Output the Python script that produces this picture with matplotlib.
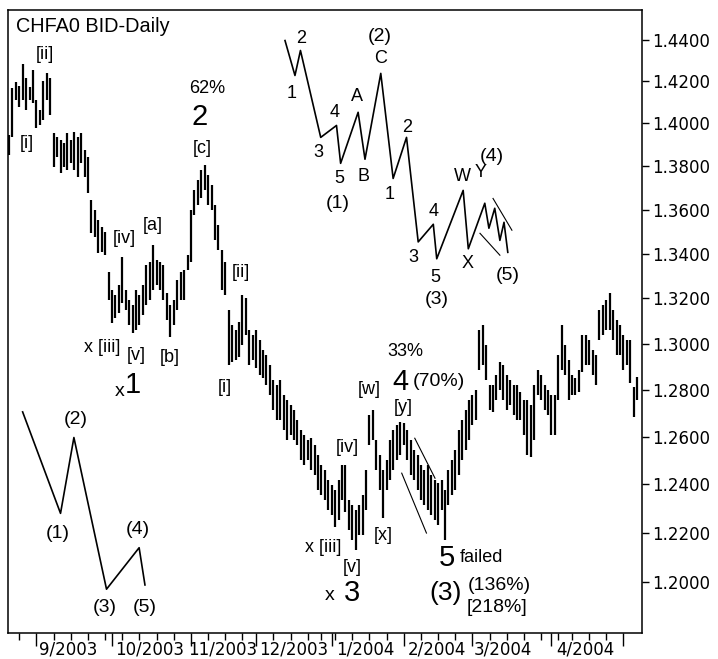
import numpy as np
import pandas as pd
import matplotlib
matplotlib.use("Agg")
import matplotlib.pyplot as plt
from matplotlib.ticker import FixedLocator, FormatStrFormatter, NullLocator
import matplotlib.transforms as mtransforms

plt.rcParams['font.family'] = ['DejaVu Sans']
LAB = ['Liberation Sans', 'DejaVu Sans']

#%% Daily bars, CHF futures
hi = [1.3943, 1.4165, 1.4194, 1.4179, 1.4284, 1.4217, 1.4170, 1.4251, 1.4108, 1.4061,
      1.4203, 1.4237, 1.4217, 1.3953, 1.3934, 1.3920, 1.3906, 1.3953, 1.3920, 1.3957,
      1.3934, 1.3953, 1.3873, 1.3841, 1.3642, 1.3597, 1.3551, 1.3519, 1.3497, 1.3316,
      1.3236, 1.3214, 1.3258, 1.3384, 1.3236, 1.3192, 1.3170, 1.3236, 1.3214, 1.3258,
      1.3348, 1.3361, 1.3438, 1.3370, 1.3361, 1.3348, 1.3223, 1.3170, 1.3192, 1.3281,
      1.3316, 1.3325, 1.3393, 1.3597, 1.3688, 1.3734, 1.3780, 1.3804, 1.3757, 1.3711,
      1.3619, 1.3528, 1.3415, 1.3361, 1.3148, 1.3082, 1.3060, 1.3095, 1.3214, 1.3201,
      1.3060, 1.3038, 1.3060, 1.3016, 1.2972, 1.2950, 1.2907, 1.2842, 1.2821, 1.2842,
      1.2778, 1.2756, 1.2735, 1.2714, 1.2671, 1.2628, 1.2607, 1.2586, 1.2594, 1.2565,
      1.2523, 1.2481, 1.2460, 1.2418, 1.2397, 1.2377, 1.2418, 1.2481, 1.2481, 1.2335,
      1.2314, 1.2294, 1.2314, 1.2356, 1.2460, 1.2692, 1.2714, 1.2586, 1.2523, 1.2460,
      1.2502, 1.2586, 1.2628, 1.2650, 1.2662, 1.2658, 1.2628, 1.2586, 1.2544, 1.2523,
      1.2481, 1.2460, 1.2481, 1.2439, 1.2418, 1.2406, 1.2418, 1.2377, 1.2460, 1.2502,
      1.2544, 1.2628, 1.2671, 1.2714, 1.2756, 1.2778, 1.2799, 1.3060, 1.3082, 1.2994,
      1.2821, 1.2821, 1.2864, 1.2920, 1.2907, 1.2864, 1.2842, 1.2821, 1.2821, 1.2791,
      1.2756, 1.2756, 1.2735, 1.2821, 1.2885, 1.2864, 1.2821, 1.2799, 1.2778, 1.2778,
      1.2950, 1.3082, 1.2994, 1.2929, 1.2864, 1.2851, 1.2885, 1.3038, 1.3038, 1.3016,
      1.2972, 1.2950, 1.3148, 1.3170, 1.3192, 1.3223, 1.3148, 1.3104, 1.3082, 1.3038,
      1.3016, 1.3016, 1.2812, 1.2855]
lo = [1.3850, 1.3934, 1.4108, 1.4075, 1.4108, 1.4061, 1.4108, 1.4094, 1.3976, 1.3990,
      1.4014, 1.4108, 1.4038, 1.3795, 1.3841, 1.3767, 1.3795, 1.3780, 1.3813, 1.3780,
      1.3748, 1.3813, 1.3748, 1.3674, 1.3492, 1.3474, 1.3402, 1.3406, 1.3393, 1.3192,
      1.3090, 1.3112, 1.3134, 1.3178, 1.3148, 1.3082, 1.3046, 1.3060, 1.3082, 1.3125,
      1.3170, 1.3192, 1.3236, 1.3258, 1.3236, 1.3192, 1.3104, 1.3029, 1.3082, 1.3148,
      1.3192, 1.3192, 1.3325, 1.3361, 1.3574, 1.3619, 1.3651, 1.3688, 1.3619, 1.3597,
      1.3460, 1.3415, 1.3236, 1.3214, 1.2907, 1.2920, 1.2929, 1.2942, 1.2994, 1.3038,
      1.2907, 1.2929, 1.2894, 1.2864, 1.2851, 1.2821, 1.2778, 1.2714, 1.2671, 1.2671,
      1.2628, 1.2586, 1.2607, 1.2586, 1.2565, 1.2502, 1.2481, 1.2502, 1.2460, 1.2439,
      1.2377, 1.2356, 1.2335, 1.2294, 1.2273, 1.2224, 1.2253, 1.2335, 1.2286, 1.2212,
      1.2171, 1.2130, 1.2191, 1.2191, 1.2294, 1.2565, 1.2586, 1.2460, 1.2377, 1.2261,
      1.2377, 1.2418, 1.2460, 1.2502, 1.2523, 1.2565, 1.2502, 1.2439, 1.2418, 1.2377,
      1.2335, 1.2314, 1.2294, 1.2273, 1.2253, 1.2232, 1.2294, 1.2171, 1.2314, 1.2356,
      1.2377, 1.2439, 1.2502, 1.2544, 1.2586, 1.2650, 1.2671, 1.2885, 1.2907, 1.2842,
      1.2714, 1.2705, 1.2756, 1.2799, 1.2756, 1.2714, 1.2735, 1.2692, 1.2671, 1.2671,
      1.2607, 1.2523, 1.2514, 1.2586, 1.2778, 1.2756, 1.2714, 1.2692, 1.2607, 1.2607,
      1.2756, 1.2885, 1.2864, 1.2756, 1.2778, 1.2778, 1.2791, 1.2877, 1.2907, 1.2907,
      1.2864, 1.2821, 1.3016, 1.3038, 1.3060, 1.3060, 1.3016, 1.2950, 1.2950, 1.2885,
      1.2907, 1.2829, 1.2684, 1.2756]

dates = pd.date_range('2003-08-20', periods=len(hi),
                      freq=pd.offsets.CustomBusinessDay(holidays=['2003-11-27', '2003-12-25',
                                                                   '2004-01-01', '2004-04-09']))
xx = np.arange(len(hi))

yticks = [1.20, 1.22, 1.24, 1.26, 1.28, 1.30, 1.32, 1.34, 1.36, 1.38, 1.40, 1.42, 1.44]

# month labels: text and left edge (bar index where the label starts)
month_lbl = ['9/2003', '10/2003', '11/2003', '12/2003', '1/2004', '2/2004', '3/2004', '4/2004']
month_lbl_x = [8.7, 30.8, 52.3, 72.8, 95.2, 116.2, 135.4, 159.3]

# schematic wave sketches (bar index, price)
sk_top_x = [80.4, 83.3, 84.9, 90.8, 95.4, 96.6, 101.7, 103.7, 108.3, 111.9, 115.8, 119.2,
            123.6, 124.6, 132.3, 133.8, 138.6, 139.8, 141.5, 143.0, 144.2, 145.3]
sk_top_y = [1.4395, 1.4227, 1.4347, 1.3934, 1.3990, 1.3813, 1.4052, 1.3832, 1.4237, 1.3743,
            1.3934, 1.3453, 1.3533, 1.3377, 1.3688, 1.3422, 1.3629, 1.3515, 1.3606, 1.3460,
            1.3542, 1.3406]
sk_bot_x = [3.96, 15.0, 18.9, 28.4, 37.9, 39.6]
sk_bot_y = [1.2706, 1.2280, 1.2597, 1.1971, 1.2139, 1.1988]

# thin channel lines (bar index, price)
chan = [((118.2, 124.1), (1.2594, 1.2426)),
        ((114.4, 121.6), (1.2447, 1.2199)),
        ((141.0, 146.5), (1.3651, 1.3506)),
        ((137.2, 143.0), (1.3492, 1.3393))]

# wave labels: text, x px, y px (reference picture), font size
labels = [
    ("[ii]", 45, 54, 13), ("[i]", 27, 143, 13), ("62%", 207, 88, 13), ("2", 200, 117, 21),
    ("[c]", 202, 148, 13), ("[iv]", 124, 238, 13), ("[a]", 153, 225, 13),
    ("x [iii]", 102, 347, 13), ("[v]", 136, 355, 13), ("[b]", 170, 357, 13),
    ("x", 120, 391, 14), ("1", 133, 385, 21), ("[i]", 225, 388, 13), ("[ii]", 241, 272, 13),
    ("33%", 405, 351, 13), ("4", 400, 382, 21), ("(70%)", 439, 382, 14), ("[w]", 369, 390, 13),
    ("[y]", 403, 408, 13), ("[iv]", 347, 448, 13), ("x [iii]", 323, 547, 13),
    ("[v]", 352, 567, 13), ("[x]", 383, 535, 13), ("x", 330, 596, 14), ("3", 352, 593, 21),
    ("5", 447, 558, 21), ("failed", 481, 557, 13), ("(3)", 446, 593, 19),
    ("(136%)", 499, 585, 14), ("[218%]", 497, 608, 14),
    ("2", 301, 38, 13), ("1", 292, 93, 13), ("3", 318, 152, 13), ("4", 335, 112, 13),
    ("5", 339, 178, 13), ("(1)", 338, 203, 14), ("A", 357, 96, 13), ("B", 364, 176, 13),
    ("C", 381, 58, 13), ("(2)", 380, 36, 14), ("1", 390, 194, 13), ("2", 407, 127, 13),
    ("4", 434, 211, 13), ("3", 413, 257, 13), ("5", 435, 277, 13), ("(3)", 437, 299, 14),
    ("W", 462, 176, 13), ("Y", 481, 172, 13), ("(4)", 492, 156, 14), ("X", 468, 263, 13),
    ("(5)", 508, 275, 14),
    ("(1)", 58, 533, 14), ("(2)", 76, 420, 14), ("(3)", 105, 607, 14), ("(4)", 138, 530, 14),
    ("(5)", 145, 607, 14),
]

#%% Figure
fig = plt.figure(figsize=(7.18, 6.59), dpi=100)
ax = fig.add_axes([8 / 718, 26 / 659, 634 / 718, 623.5 / 659])

ax.vlines(xx, lo, hi, color='black', lw=1.6)

ax.set_yscale('log')
ax.set_ylim(1.1796, 1.4546)
ax.set_xlim(-0.3, 184.4)

ax.yaxis.tick_right()
ax.yaxis.set_major_locator(FixedLocator(yticks))
ax.yaxis.set_major_formatter(FormatStrFormatter('%.4f'))
ax.yaxis.set_minor_locator(NullLocator())
ax.tick_params(axis='y', which='major', direction='out', length=5, width=1, pad=2,
               labelsize=12, colors='black')

# x ticks: weekly minor, monthly major
d = pd.Series(dates)
month_start = np.where(d.dt.month.diff().fillna(0) != 0)[0]
week_start = np.where(d.dt.weekday.diff().fillna(0) < 0)[0]
ax.xaxis.set_major_locator(FixedLocator(month_start))
ax.xaxis.set_minor_locator(FixedLocator(week_start))
ax.tick_params(axis='x', which='major', direction='out', length=9, width=1, labelbottom=False)
ax.tick_params(axis='x', which='minor', direction='out', length=5, width=1)

trans = mtransforms.blended_transform_factory(ax.transData, ax.transAxes)
for s, x0 in zip(month_lbl, month_lbl_x):
    ax.text(x0, -0.0115, s, transform=trans, ha='left', va='top', fontsize=12,
            clip_on=False)

for sp in ax.spines.values():
    sp.set_linewidth(1.1)

ax.plot(sk_top_x, sk_top_y, color='black', lw=1.2)
ax.plot(sk_bot_x, sk_bot_y, color='black', lw=1.2)
for cx, cy in chan:
    ax.plot(cx, cy, color='black', lw=0.8)

ax.text((16 - 8) / 634, (633 - 26) / 623.5, "CHFA0 BID-Daily", transform=ax.transAxes,
        ha='left', va='center', fontsize=14.3, family=LAB)
for s, x0, y0, fs in labels:
    ax.text((x0 - 8) / 634, (633 - y0) / 623.5, s, transform=ax.transAxes,
            ha='center', va='center', fontsize=fs, family=LAB)

fig.savefig('out.png', dpi=100)
